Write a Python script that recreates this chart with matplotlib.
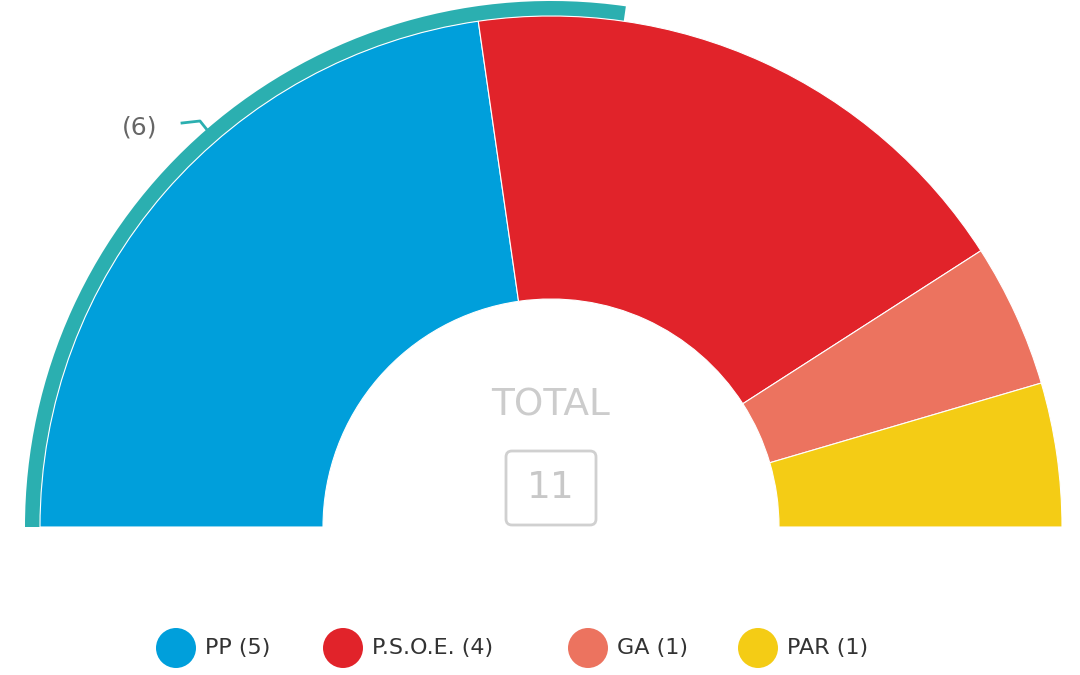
import matplotlib
matplotlib.use("Agg")
import matplotlib.pyplot as plt
from matplotlib.patches import Wedge, Circle, FancyBboxPatch
import numpy as np

parties = ["PP", "P.S.O.E.", "GA", "PAR"]
seats = [5, 4, 1, 1]
colors = ["#009FDB", "#E1232A", "#EC735F", "#F4CC15"]
prev_label = "(6)"
prev_seats = 6
prev_color = "#2BAFB0"

total = sum(seats)
fig = plt.figure(figsize=(10.8, 6.75), dpi=100)
ax = fig.add_axes([0, 0, 1, 1])
ax.set_xlim(0, 1080)
ax.set_ylim(0, 675)
ax.axis("off")

cx, cy = 551, 675 - 527
r_out, r_in = 511, 228

# previous ring
pa = prev_seats / total * 180
ax.add_patch(Wedge((cx, cy), 526, 180 - pa, 180, width=15, color=prev_color, lw=0))

start = 180
for s, c in zip(seats, colors):
    span = s / total * 180
    ax.add_patch(Wedge((cx, cy), r_out, start - span, start, width=r_out - r_in,
                       facecolor=c, edgecolor="white", lw=0.8))
    start -= span

ax.text(140, 675 - 127, prev_label, fontsize=18, color="#666", ha="center", va="center")
ax.plot([182, 200, 208], [675 - 123, 675 - 121, 675 - 131], color=prev_color, lw=2)

ax.text(cx, 675 - 405, "TOTAL", fontsize=27, color="#cccccc", ha="center", va="center")
ax.add_patch(FancyBboxPatch((cx - 45, 675 - 525), 90, 74,
                            boxstyle="round,pad=0,rounding_size=6",
                            facecolor="none", edgecolor="#d0d0d0", lw=2))
ax.text(cx, 675 - 488, str(total), fontsize=27, color="#c8c8c8", ha="center", va="center")

lx = [176, 343, 588, 758]
for x, p, s, c in zip(lx, parties, seats, colors):
    ax.add_patch(Circle((x, 675 - 648), 20, color=c, lw=0))
    ax.text(x + 29, 675 - 648, f"{p} ({s})", fontsize=16, color="#333333",
            ha="left", va="center")

fig.savefig("out.png", dpi=100)
